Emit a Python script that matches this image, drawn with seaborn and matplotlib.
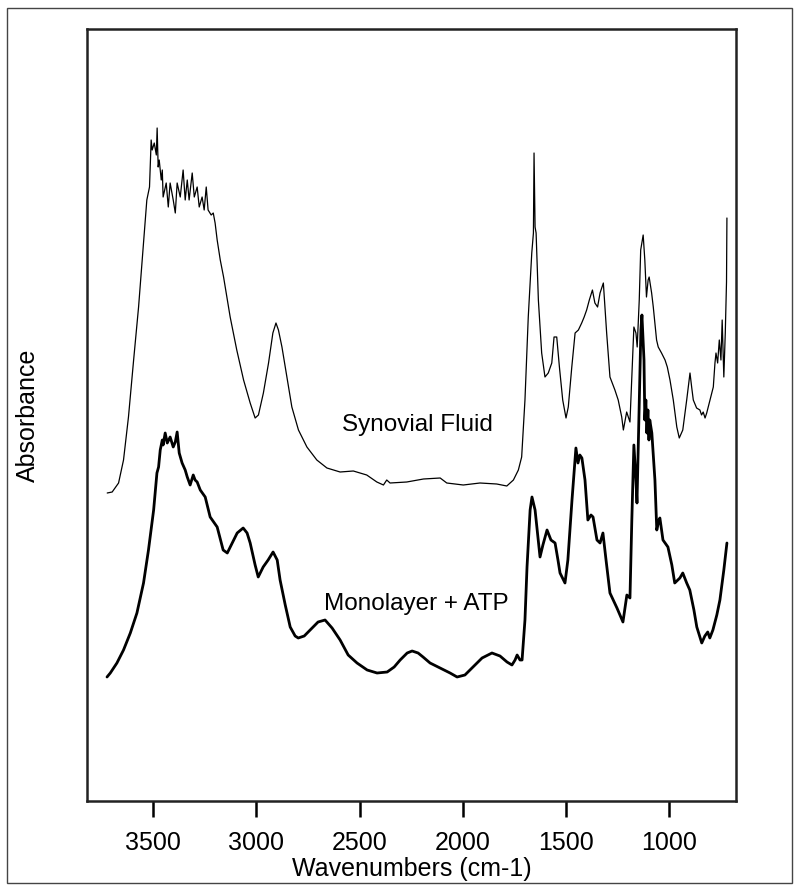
import pandas as pd
import matplotlib.pyplot as plt
import seaborn as sns
from matplotlib.patches import Rectangle

# Espectros (número de onda em cm-1, absorvância em unidades arbitrárias)
sinovial_wn = [3723, 3699, 3668, 3644, 3620, 3595, 3571, 3547, 3531, 3518,
               3510, 3505, 3495, 3485, 3481, 3476, 3471, 3461, 3456, 3452,
               3437, 3427, 3418, 3403, 3393, 3384, 3369, 3355, 3345, 3335,
               3326, 3311, 3301, 3287, 3277, 3263, 3253, 3243, 3234, 3219,
               3209, 3200, 3190, 3175, 3159, 3127, 3095, 3062, 3030, 3006,
               2990, 2966, 2941, 2920, 2905, 2893, 2876, 2852, 2828, 2796,
               2755, 2707, 2658, 2594, 2530, 2465, 2416, 2384, 2368, 2352,
               2271, 2190, 2109, 2077, 1997, 1916, 1835, 1786, 1754, 1730,
               1714, 1698, 1682, 1665, 1657, 1654, 1649, 1644, 1633, 1617,
               1601, 1585, 1568, 1557, 1544, 1531, 1515, 1499, 1488, 1471,
               1455, 1439, 1423, 1411, 1399, 1386, 1371, 1359, 1346, 1334,
               1318, 1302, 1286, 1262, 1246, 1229, 1221, 1205, 1189, 1178,
               1170, 1160, 1154, 1144, 1137, 1125, 1117, 1109, 1101, 1096,
               1084, 1076, 1060, 1052, 1036, 1019, 1008, 995, 979, 962,
               950, 933, 914, 898, 890, 882, 866, 850, 842, 834,
               825, 817, 801, 785, 777, 772, 764, 756, 748, 742,
               734, 727, 721, 719]
sinovial_abs = [308, 309, 318, 341, 384, 441, 494, 558, 601, 614,
                661, 651, 658, 646, 673, 634, 641, 621, 631, 604,
                618, 594, 618, 601, 588, 618, 604, 631, 601, 621,
                601, 628, 604, 614, 594, 604, 591, 614, 591, 586,
                588, 578, 561, 541, 524, 484, 451, 421, 398, 383,
                386, 408, 438, 468, 478, 471, 454, 424, 394, 371,
                354, 341, 333, 329, 330, 326, 319, 316, 321, 318,
                319, 322, 323, 318, 316, 318, 317, 315, 321, 331,
                344, 401, 484, 548, 568, 648, 574, 568, 501, 448,
                424, 428, 438, 464, 464, 434, 401, 383, 394, 434,
                468, 471, 478, 484, 491, 501, 511, 498, 494, 508,
                518, 468, 424, 411, 401, 384, 371, 389, 379, 434,
                474, 468, 454, 501, 551, 566, 541, 504, 521, 524,
                508, 494, 461, 454, 448, 441, 434, 421, 401, 374,
                363, 371, 401, 428, 414, 401, 393, 391, 386, 389,
                383, 388, 401, 414, 438, 448, 438, 461, 441, 481,
                424, 468, 519, 583]

monocamada_wn = [3724, 3708, 3676, 3644, 3611, 3579, 3547, 3523, 3498, 3482,
                 3474, 3466, 3456, 3452, 3442, 3432, 3418, 3403, 3393, 3384,
                 3374, 3360, 3345, 3335, 3321, 3306, 3297, 3287, 3272, 3248,
                 3224, 3190, 3161, 3141, 3117, 3093, 3064, 3045, 3030, 3006,
                 2991, 2967, 2943, 2919, 2899, 2885, 2860, 2836, 2812, 2797,
                 2768, 2739, 2701, 2667, 2633, 2594, 2555, 2512, 2463, 2415,
                 2366, 2332, 2303, 2269, 2245, 2216, 2192, 2158, 2109, 2061,
                 2027, 1989, 1950, 1906, 1858, 1819, 1785, 1761, 1746, 1736,
                 1722, 1712, 1698, 1688, 1673, 1664, 1649, 1625, 1611, 1591,
                 1572, 1552, 1538, 1528, 1504, 1490, 1470, 1451, 1441, 1432,
                 1422, 1407, 1393, 1378, 1368, 1349, 1334, 1320, 1305, 1286,
                 1252, 1223, 1204, 1189, 1180, 1170, 1160, 1155, 1146, 1136,
                 1131, 1121, 1117, 1112, 1107, 1102, 1097, 1093, 1083, 1068,
                 1059, 1049, 1044, 1029, 1005, 986, 972, 947, 933, 914,
                 899, 879, 865, 850, 841, 826, 812, 802, 787, 768,
                 753, 734, 719]
monocamada_abs = [124, 128, 138, 151, 168, 188, 218, 251, 291, 328,
                  334, 351, 361, 356, 368, 358, 364, 354, 359, 369,
                  348, 338, 331, 324, 316, 326, 321, 319, 311, 304,
                  284, 274, 251, 248, 258, 268, 273, 268, 258, 236,
                  224, 234, 241, 249, 241, 221, 196, 174, 165, 163,
                  165, 171, 179, 181, 173, 161, 146, 138, 131, 128,
                  129, 134, 141, 148, 150, 148, 144, 138, 133, 128,
                  124, 126, 134, 143, 148, 145, 139, 136, 141, 146,
                  141, 141, 181, 234, 291, 304, 291, 244, 256, 271,
                  261, 258, 241, 228, 218, 241, 301, 353, 338, 346,
                  343, 321, 281, 286, 284, 261, 258, 268, 241, 208,
                  193, 179, 206, 203, 281, 356, 321, 298, 381, 471,
                  486, 441, 381, 401, 368, 391, 361, 381, 368, 321,
                  271, 281, 283, 261, 254, 236, 218, 223, 228, 218,
                  211, 191, 174, 164, 158, 165, 169, 163, 171, 186,
                  201, 231, 258]

xticks = [3500, 3000, 2500, 2000, 1500, 1000]

sns.set_theme(style='ticks')
plt.rcParams['font.family'] = ['Liberation Sans', 'DejaVu Sans']

df_sin = pd.DataFrame({'wn': sinovial_wn, 'abs': sinovial_abs})
df_mono = pd.DataFrame({'wn': monocamada_wn, 'abs': monocamada_abs})

fig = plt.figure(figsize=(8, 8.93), dpi=100)
ax = fig.add_axes([87 / 800, 1 - 801 / 893, 649 / 800, 772 / 893])

sns.lineplot(data=df_sin, x='wn', y='abs', sort=False, estimator=None,
             color='black', linewidth=0.9, ax=ax)
sns.lineplot(data=df_mono, x='wn', y='abs', sort=False, estimator=None,
             color='black', linewidth=2.0, ax=ax)

ax.set_xlim(3821, 675)
ax.set_ylim(0, 772)
ax.set_xticks(xticks)
ax.set_xticklabels([str(t) for t in xticks])
ax.set_yticks([])
ax.tick_params(axis='x', which='major', bottom=True, direction='out',
               length=11.5, width=1.8, color='black',
               labelcolor='black', labelsize=18, pad=10)
for sp in ax.spines.values():
    sp.set_visible(True)
    sp.set_linewidth(1.8)
    sp.set_color('#222222')

ax.set_xlabel('Wavenumbers (cm-1)', fontsize=18, labelpad=1.5, color='black')
ax.set_ylabel('Absorbance', fontsize=18, color='black')
ax.yaxis.set_label_coords(-0.072, 0.5)

ax.text(2221, 376, 'Synovial Fluid', fontsize=17.5, ha='center', va='center', color='black')
ax.text(2226, 197, 'Monolayer + ATP', fontsize=17.5, ha='center', va='center', color='black')

# moldura exterior da figura
fig.patches.append(Rectangle((7 / 800, 1 - 883 / 893), 785 / 800, 875 / 893,
                             transform=fig.transFigure, fill=False,
                             edgecolor='#444444', linewidth=1.0))

fig.savefig('out.png', dpi=100)
